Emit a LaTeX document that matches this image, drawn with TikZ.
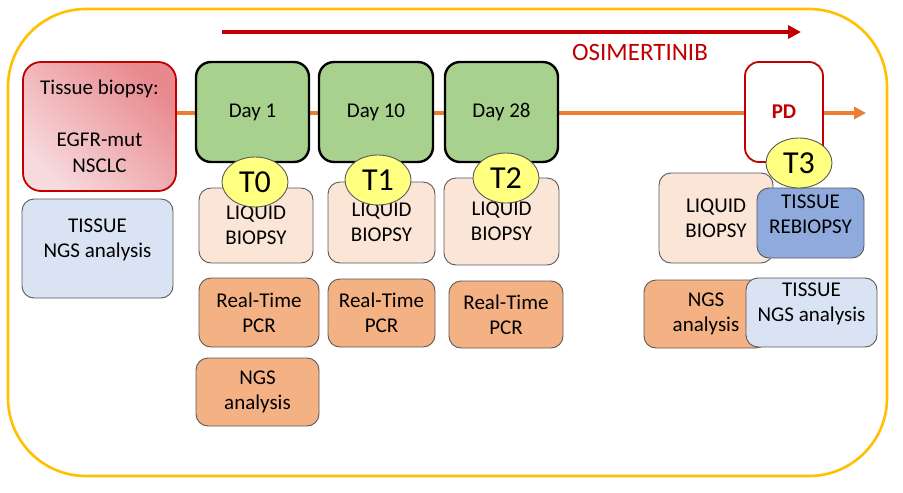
\documentclass[tikz,border=0pt]{standalone}
\usepackage{fontspec}
\setmainfont{Carlito}
\usetikzlibrary{shapes.geometric,arrows.meta}

\definecolor{gold}{HTML}{FFC000}
\definecolor{darkred}{HTML}{C00000}
\definecolor{lineorange}{HTML}{ED7D31}
\definecolor{daygreen}{HTML}{A9D18E}
\definecolor{liquidfill}{HTML}{FBE5D6}
\definecolor{pcrfill}{HTML}{F4B183}
\definecolor{tissuefill}{HTML}{DAE3F3}
\definecolor{rebiofill}{HTML}{8FAADC}
\definecolor{tfill}{HTML}{FFFF80}
\definecolor{boxgray}{HTML}{5A5A5A}
\definecolor{pinklight}{HTML}{F7DADD}
\definecolor{pinkdark}{HTML}{E8898E}

\begin{document}
\begin{tikzpicture}[x=1pt, y=-1pt,
  box/.style={draw=boxgray, line width=0.9pt, rounded corners=12pt, align=center,
    inner sep=0pt, font=\fontsize{21}{25}\selectfont},
  day/.style={box, draw=black, line width=2.4pt, fill=daygreen, rounded corners=15pt,
    minimum width=113pt, minimum height=100pt},
  liquid/.style={box, fill=liquidfill},
  pcr/.style={box, fill=pcrfill},
  tissue/.style={box, fill=tissuefill},
  uptext/.style={label={[align=center, inner sep=0pt, yshift=8.5pt,
    font=\fontsize{21}{25}\selectfont]center:#1}},
  tlabel/.style={draw=boxgray, line width=0.9pt, fill=tfill, ellipse, inner sep=0pt,
    minimum width=66pt, minimum height=50pt, font=\fontsize{32}{32}\selectfont}]
  \useasboundingbox (0,0) rectangle (903,493);

  % frame
  \draw[gold, line width=2.6pt, rounded corners=78pt] (8,9) rectangle (887,476);

  % osimertinib arrow
  \coordinate (osiA) at (222,32);
  \coordinate (osiB) at (801,32);
  \draw[darkred, line width=3.6pt, -{Triangle[length=13pt, width=13pt]}] (osiA) -- (osiB);
  \node[darkred, font=\fontsize{25}{25}\selectfont] (osi) at (640,52) {OSIMERTINIB};

  % starting biopsy
  \node[box, draw=darkred, line width=1.8pt, rounded corners=18pt,
    left color=pinklight, right color=pinkdark, shading angle=135,
    minimum width=153pt, minimum height=129pt, font=\fontsize{21}{26}\selectfont]
    (biopsy) at (99.5,126.5) {Tissue biopsy:\\[26pt]EGFR-mut\\NSCLC};
  \node[tissue, minimum width=151pt, minimum height=99pt,
    uptext={TISSUE\\NGS analysis}] (tngsL) at (97.5,248.5) {};

  % timeline
  \coordinate (tlend) at (866,113);
  \draw[lineorange, line width=3.6pt, -{Triangle[length=12pt, width=12pt]}] (biopsy.east |- tlend) -- (tlend);

  \node[day] (D1) at (252.5,112) {Day 1};
  \node[day, minimum width=114pt] (D10) at (376,112) {Day 10};
  \node[day] (D28) at (501.5,112) {Day 28};
  \node[box, draw=darkred, line width=1.8pt, fill=white, rounded corners=14pt,
    minimum width=78pt, minimum height=100pt, font=\fontsize{21}{21}\selectfont\bfseries,
    text=darkred] (PD) at (784,112) {PD};

  % samples
  \node[liquid, minimum width=114pt, minimum height=75pt] (L0) at (256,225.5) {LIQUID\\BIOPSY};
  \node[liquid, minimum width=107pt, minimum height=81pt] (L1) at (381.5,222.5) {LIQUID\\BIOPSY};
  \node[liquid, minimum width=115pt, minimum height=87pt] (L2) at (501.5,221.5) {LIQUID\\BIOPSY};
  \node[liquid, minimum width=114pt, minimum height=90pt] (L3) at (716,218) {LIQUID\\BIOPSY};
  \node[box, fill=rebiofill, minimum width=107pt, minimum height=70pt,
    uptext={TISSUE\\REBIOPSY}] (rebio) at (810.5,223) {};

  \node[pcr, minimum width=120pt, minimum height=69pt] (P0) at (259,312.5) {Real-Time\\PCR};
  \node[pcr, minimum width=107pt, minimum height=68pt] (P1) at (381.5,313) {Real-Time\\PCR};
  \node[pcr, minimum width=114pt, minimum height=67pt] (P2) at (506,314.5) {Real-Time\\PCR};
  \node[pcr, minimum width=123pt, minimum height=68pt] (N0) at (257.5,392) {NGS\\analysis};
  \node[pcr, minimum width=124pt, minimum height=68pt] (N3) at (706,314) {NGS\\analysis};
  \node[tissue, minimum width=131pt, minimum height=69pt,
    uptext={TISSUE\\NGS analysis}] (tngsR) at (811.5,312.5) {};

  % time points
  \node[tlabel] (T0) at (255,182) {T0};
  \node[tlabel] (T1) at (378,180) {T1};
  \node[tlabel] (T2) at (506,178) {T2};
  \node[tlabel] (T3) at (799,163) {T3};
\end{tikzpicture}
\end{document}
